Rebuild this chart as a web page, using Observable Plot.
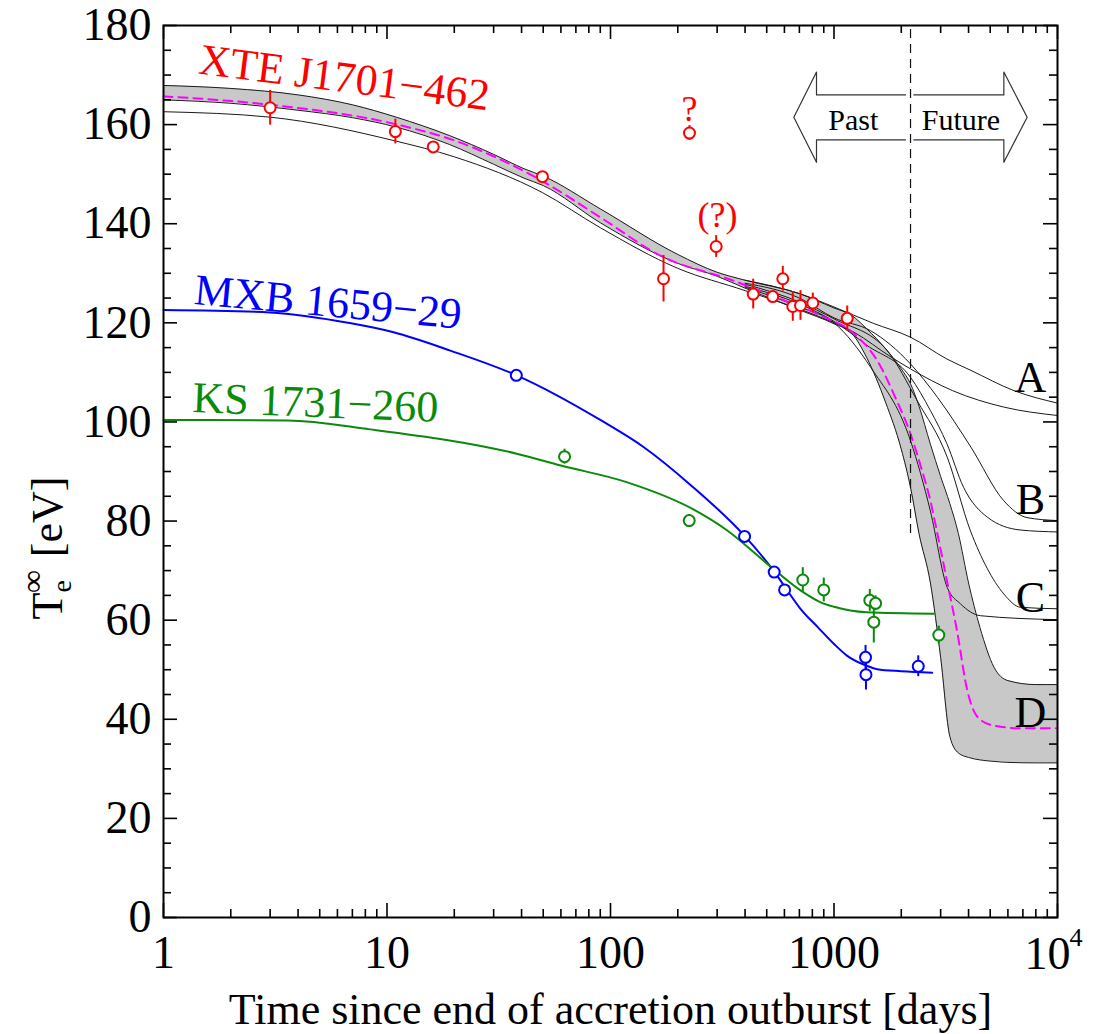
<!DOCTYPE html>
<html><head><meta charset="utf-8">
<script src="https://cdn.jsdelivr.net/npm/d3@7"></script>
<script src="https://cdn.jsdelivr.net/npm/@observablehq/plot@0.6"></script>
<style>body{margin:0;background:#fff;} svg{display:block}</style>
</head><body><div id="chart"></div>
<script>
// ---------- data (days, eV) ----------
const xteDays = [3.0, 10.9, 16.1, 49.6, 172.7, 225.6, 297, 435, 532, 590, 654, 708, 804, 1146];
const xteTemp = [163.4, 158.6, 155.5, 149.5, 128.9, 158.3, 135.4, 125.8, 125.3, 128.9, 123.3, 123.5, 124.0, 120.9];
const xteErr  = [3.5, 2.5, 1.0, 1.0, 4.7, 1.5, 2.2, 3.0, 1.0, 2.5, 3.0, 3.0, 2.0, 2.5];

const mxbDays = [37.9, 398, 540, 601, 1384, 1390, 2382];
const mxbTemp = [109.4, 76.9, 69.7, 66.1, 52.5, 49.0, 50.7];
const mxbErr  = [0.5, 0.5, 0.5, 0.5, 2.4, 3.1, 2.1];

const ksDays = [62.3, 225, 725, 900, 1446, 1535, 1507, 2944];
const ksTemp = [93.0, 80.1, 68.1, 66.1, 64.0, 63.4, 59.6, 57.0];
const ksErr  = [1.5, 1.2, 2.5, 2.4, 2.2, 1.5, 4.2, 1.8];

const mxbCurveX = [1, 3, 6.9, 10.7, 19.2, 38, 90, 141, 228, 398, 540, 601, 708, 850, 1000, 1146, 1400, 1560, 2000, 2750];
const mxbCurveY = [122.6, 122.1, 119.9, 118.1, 114.4, 109.4, 100.4, 94.9, 87.3, 77.0, 69.8, 66.8, 62.3, 58.5, 55.2, 52.8, 50.8, 50.1, 49.7, 49.4];

const ksCurveX = [1, 3.6, 8.4, 38, 60, 119, 236, 333, 502, 708, 871, 1000, 1400, 2800];
const ksCurveY = [100.4, 100.3, 98.5, 93.6, 91.2, 87.8, 82.3, 78.1, 71.4, 66.0, 63.6, 62.7, 61.6, 61.3];

const bandX  = [1, 2, 4, 7, 11, 19, 30, 41, 50, 90, 200, 300, 400, 700, 1000, 1200, 1400, 1700, 2000, 2200, 2400, 2700, 3000, 3300, 3600, 4000, 4500, 5200, 6000, 8000, 10000];
const bandHi = [167.9, 167.3, 166.0, 164.0, 161.5, 157.8, 154.0, 151.1, 149.6, 143.0, 133.8, 130.2, 128.6, 125.9, 123.0, 121.5, 118.8, 114.8, 110.7, 107.7, 103.2, 95.5, 89.0, 83.5, 77.5, 67.5, 58.5, 50.5, 47.8, 47.0, 47.0];
const bandLo = [165.0, 164.3, 162.9, 161.4, 159.5, 156.0, 152.0, 149.2, 147.7, 140.2, 132.0, 129.4, 127.0, 122.6, 119.8, 117.9, 113.0, 104.0, 94.5, 86.8, 77.5, 67.5, 52.5, 36.5, 33.2, 32.3, 31.8, 31.5, 31.3, 31.2, 31.2];

const magX = [1, 3, 10.9, 20, 50, 90, 170, 350, 600, 870, 1230, 1560, 1900, 2200, 2450, 2700, 2900, 3200, 3550, 3950, 4400, 5200, 6800, 10000];
const magY = [165.7, 164.0, 160.1, 156.8, 148.5, 141.3, 133.4, 128.6, 124.5, 121.5, 117.8, 112.4, 104.5, 97.6, 90.9, 84.1, 77.5, 68.0, 57.9, 45.8, 40.4, 38.7, 38.2, 38.2];

const aUpX = [400, 700, 1000, 1500, 2200, 3200, 4100, 6400, 10000];
const aUpY = [128.6, 125.9, 123.2, 119.9, 117.1, 112.7, 110.4, 106.3, 103.8];
const aLoX = [1, 3, 10.9, 20, 49.5, 90, 200, 400, 800, 1230, 1800, 2200, 3400, 5750, 10000];
const aLoY = [162.6, 161.5, 156.7, 153.5, 146.3, 139.2, 131.0, 126.5, 121.8, 118.1, 113.1, 110.7, 106.3, 103.0, 101.3];
const bUpX = [400, 700, 1000, 1460, 2200, 2900, 4100, 5750, 7300, 10000];
const bUpY = [128.0, 125.0, 121.0, 118.4, 111.7, 105.0, 94.9, 84.1, 80.7, 80.1];
const bLoX = [400, 700, 1000, 1400, 2200, 2700, 3200, 3800, 4850, 6800, 10000];
const bLoY = [127.4, 123.8, 120.3, 115.5, 109.0, 102.3, 95.6, 86.8, 80.8, 78.2, 77.8];
const cUpX = [400, 700, 1000, 1730, 2355, 3210, 4080, 4840, 5750, 6830, 10000];
const cUpY = [127.8, 124.2, 120.8, 114.4, 104.3, 92.9, 78.0, 70.5, 65.3, 62.6, 62.3];
const cLoX = [400, 700, 1000, 1460, 2200, 2700, 3210, 3680, 4520, 10000];
const cLoY = [127.2, 123.2, 120.0, 111.0, 96.2, 82.0, 66.6, 63.3, 60.9, 60.1];

const nowDay = 2200, nowLow = 77.5;

const pastArrowX = [2090, 835, 835, 661, 835, 835, 2090];
const pastArrowY = [166.0, 166.0, 170.6, 161.5, 152.4, 156.9, 156.9];
const futArrowX  = [2276, 5754, 5754, 7315, 5754, 5754, 2276];
const futArrowY  = [166.0, 166.0, 170.6, 161.5, 152.4, 156.9, 156.9];

const sourceNames  = ["XTE J1701\u2212462", "MXB 1659\u221229", "KS 1731\u2212260"];
const sourceColors = ["#ff0000", "#0000ff", "#0a8a0a"];
const nameX = [1.42, 1.36, 1.34];
const nameY = [170.3, 123.8, 102.0];
const nameTilt = [7.2, 5.3, 2.3];

const qText = ["?", "(?)"];
const qX = [225.6, 301];
const qY = [160.8, 139.3];

const curveLabels = ["A", "B", "C", "D"];
const curveLabelX = [7570, 7570, 7570, 7570];
const curveLabelY = [106.0, 81.4, 61.6, 38.4];

const arrowText = ["Past", "Future"];
const arrowTextX = [1220, 3700];
const arrowTextY = [159.0, 159.0];

const xMajor = [1, 10, 100, 1000, 10000];
const xTickLabels = ["1", "10", "100", "1000", "10"];
const xSup = "4";
const xMinor = [2,3,4,5,6,7,8,9,20,30,40,50,60,70,80,90,200,300,400,500,600,700,800,900,2000,3000,4000,5000,6000,7000,8000,9000];
const yMajor = [0, 20, 40, 60, 80, 100, 120, 140, 160, 180];
const yMinor = [5,10,15,25,30,35,45,50,55,65,70,75,85,90,95,105,110,115,125,130,135,145,150,155,165,170,175];

const xTitle = "Time since end of accretion outburst [days]";

// ---------- build ----------
const zip = (xs, ys) => xs.map((x, i) => ({x, y: ys[i]}));
const pts = (xs, ys, es) => xs.map((x, i) => ({x, y: ys[i], e: es[i]}));
const band = bandX.map((x, i) => ({x, hi: bandHi[i], lo: bandLo[i]}));

const W = 1102, H = 1034, mL = 163, mR = 45, mT = 25, mB = 117;
const pw = W - mL - mR, ph = H - mT - mB;
const serif = "'Liberation Serif', 'Times New Roman', Times, serif";
const thin = {stroke: "#1a1a1a", strokeWidth: 1, curve: "monotone-x"};
const lastTick = xMajor[xMajor.length - 1];

const marks = [
  Plot.areaY(band, {x: "x", y1: "lo", y2: "hi", fill: "#c8c8c8", curve: "monotone-x"}),
  Plot.line(band, {x: "x", y: "hi", ...thin}),
  Plot.line(band, {x: "x", y: "lo", ...thin}),
  Plot.line(zip(aUpX, aUpY), {x: "x", y: "y", ...thin}),
  Plot.line(zip(aLoX, aLoY), {x: "x", y: "y", ...thin}),
  Plot.line(zip(bUpX, bUpY), {x: "x", y: "y", ...thin}),
  Plot.line(zip(bLoX, bLoY), {x: "x", y: "y", ...thin}),
  Plot.line(zip(cUpX, cUpY), {x: "x", y: "y", ...thin}),
  Plot.line(zip(cLoX, cLoY), {x: "x", y: "y", ...thin}),
  Plot.line(zip(magX, magY), {x: "x", y: "y", stroke: "#ff00ff", strokeWidth: 2, strokeDasharray: "9,6", curve: "monotone-x"}),
  Plot.ruleX([nowDay], {x: d => d, y1: nowLow, y2: 180, stroke: "#111", strokeWidth: 1.2, strokeDasharray: "9,6"}),
  Plot.line(zip(pastArrowX, pastArrowY), {x: "x", y: "y", stroke: "#333", strokeWidth: 1.2}),
  Plot.line(zip(futArrowX, futArrowY), {x: "x", y: "y", stroke: "#333", strokeWidth: 1.2}),
  Plot.text(arrowText, {x: (d, i) => arrowTextX[i], y: (d, i) => arrowTextY[i], text: d => d, fontSize: 30, lineAnchor: "bottom", fill: "#000"}),
  Plot.line(zip(mxbCurveX, mxbCurveY), {x: "x", y: "y", stroke: sourceColors[1], strokeWidth: 2, curve: "monotone-x"}),
  Plot.line(zip(ksCurveX, ksCurveY), {x: "x", y: "y", stroke: sourceColors[2], strokeWidth: 2, curve: "monotone-x"}),
];
[[xteDays, xteTemp, xteErr, 0], [mxbDays, mxbTemp, mxbErr, 1], [ksDays, ksTemp, ksErr, 2]].forEach(([xs, ys, es, k]) => {
  const d = pts(xs, ys, es);
  marks.push(Plot.ruleX(d, {x: "x", y1: p => p.y - p.e, y2: p => p.y + p.e, stroke: sourceColors[k], strokeWidth: 2}));
  marks.push(Plot.dot(d, {x: "x", y: "y", r: 5.5, stroke: sourceColors[k], fill: "white", strokeWidth: 2}));
});
marks.push(
  Plot.text(sourceNames, {x: (d, i) => nameX[i], y: (d, i) => nameY[i], text: d => d, rotate: (d, i) => nameTilt[i],
    fill: (d, i) => sourceColors[i], fontSize: 44, textAnchor: "start", lineAnchor: "bottom"}),
  Plot.text(qText, {x: (d, i) => qX[i], y: (d, i) => qY[i], text: d => d, fill: "#ff0000", fontSize: 36, lineAnchor: "bottom"}),
  Plot.text(curveLabels, {x: (d, i) => curveLabelX[i], y: (d, i) => curveLabelY[i], text: d => d, fill: "#000", fontSize: 44, lineAnchor: "bottom"}),
  Plot.frame({stroke: "#000", strokeWidth: 2}),
  Plot.tickX(xMajor, {x: d => d, insetTop: ph - 14, stroke: "#000", strokeWidth: 1.6}),
  Plot.tickX(xMajor, {x: d => d, insetBottom: ph - 14, stroke: "#000", strokeWidth: 1.6}),
  Plot.tickX(xMinor, {x: d => d, insetTop: ph - 8, stroke: "#000", strokeWidth: 1.6}),
  Plot.tickX(xMinor, {x: d => d, insetBottom: ph - 8, stroke: "#000", strokeWidth: 1.6}),
  Plot.tickY(yMajor, {y: d => d, insetRight: pw - 14, stroke: "#000", strokeWidth: 1.6}),
  Plot.tickY(yMajor, {y: d => d, insetLeft: pw - 14, stroke: "#000", strokeWidth: 1.6}),
  Plot.tickY(yMinor, {y: d => d, insetRight: pw - 8, stroke: "#000", strokeWidth: 1.6}),
  Plot.tickY(yMinor, {y: d => d, insetLeft: pw - 8, stroke: "#000", strokeWidth: 1.6}),
  Plot.axisX({ticks: xMajor.slice(0, -1), tickFormat: d => xTickLabels[xMajor.indexOf(d)], tickSize: 0, tickPadding: 18, fontSize: 46, label: null, anchor: "bottom"}),
  Plot.text([lastTick], {x: d => d, y: () => 0, text: d => xTickLabels[xMajor.indexOf(d)], fontSize: 46, lineAnchor: "bottom", dx: -10, dy: 51, fill: "#000"}),
  Plot.text([lastTick], {x: d => d, y: () => 0, text: () => xSup, fontSize: 26, textAnchor: "start", lineAnchor: "bottom", dx: 12, dy: 28, fill: "#000"}),
  Plot.axisY({ticks: yMajor, tickSize: 0, tickPadding: 12, fontSize: 46, label: null, anchor: "left"}),
  Plot.text([xTitle], {frameAnchor: "bottom", text: d => d, fontSize: 44, lineAnchor: "bottom", dy: 106, fill: "#000"})
);

const chart = Plot.plot({
  width: W, height: H,
  marginLeft: mL, marginRight: mR, marginTop: mT, marginBottom: mB,
  x: {type: "log", domain: [1, 10000], axis: null},
  y: {domain: [0, 180], axis: null},
  style: {fontFamily: serif, fontSize: "44px", background: "white", color: "#000", overflow: "visible"},
  marks
});

// y-axis label with subscript / superscript
const svg = d3.select(chart);
const lab = svg.append("text")
  .attr("transform", "translate(62,548) rotate(-90)")
  .attr("font-family", serif).attr("font-size", 44).attr("fill", "#000");
lab.append("tspan").text("T");
lab.append("tspan").attr("font-size", 28).attr("dy", 9).text("e");
lab.append("tspan").attr("font-size", 32).attr("dx", -13).attr("dy", -28).text("\u221e");
lab.append("tspan").attr("dy", 19).attr("dx", 2).text(" [eV]");

document.getElementById("chart").appendChild(chart);
</script>
</body></html>
